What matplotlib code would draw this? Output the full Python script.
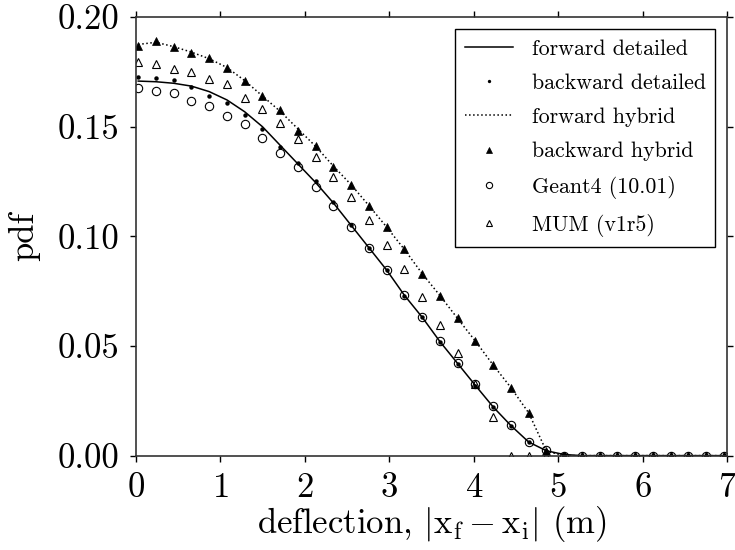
import matplotlib
matplotlib.use("Agg")
import matplotlib.pyplot as plt
import numpy as np

plt.rcParams['font.family'] = 'serif'
plt.rcParams['font.serif'] = ['cmr10']
plt.rcParams['mathtext.fontset'] = 'cm'
plt.rcParams['axes.formatter.use_mathtext'] = True
plt.rcParams['axes.unicode_minus'] = False

# bin centres of the deflection histogram (m)
x = 0.03 + 0.21 * np.arange(34)

fwd_detailed = [0.1708, 0.1705, 0.1698, 0.1685, 0.1660, 0.1622, 0.1568, 0.1500,
                0.1415, 0.1330, 0.1245, 0.1152, 0.1050, 0.0948, 0.0846, 0.0731,
                0.0631, 0.0520, 0.0420, 0.0320, 0.0222, 0.0137, 0.0062, 0.0022,
                0.0005] + [0.0] * 9
bwd_detailed = [0.1725, 0.1720, 0.1713, 0.1680, 0.1641, 0.1606, 0.1553, 0.1490,
                0.1407, 0.1333, 0.1252, 0.1155, 0.1051, 0.0947, 0.0846, 0.0729,
                0.0631, 0.0519, 0.0418, 0.0317, 0.0220, 0.0135, 0.0061, 0.0022,
                0.0007] + [0.0] * 9
fwd_hybrid = [0.1875, 0.1885, 0.1865, 0.1840, 0.1810, 0.1770, 0.1710, 0.1640,
              0.1570, 0.1490, 0.1410, 0.1320, 0.1235, 0.1140, 0.1042, 0.0940,
              0.0830, 0.0730, 0.0625, 0.0522, 0.0413, 0.0310, 0.0195, 0.0020] + [0.0] * 10
bwd_hybrid = [0.1870, 0.1890, 0.1865, 0.1834, 0.1815, 0.1766, 0.1708, 0.1640,
              0.1578, 0.1482, 0.1413, 0.1317, 0.1234, 0.1140, 0.1042, 0.0941,
              0.0828, 0.0728, 0.0626, 0.0524, 0.0413, 0.0310, 0.0195, 0.0020] + [0.0] * 10
geant4 = [0.1675, 0.1663, 0.1655, 0.1618, 0.1596, 0.1550, 0.1512, 0.1447,
          0.1381, 0.1315, 0.1226, 0.1138, 0.1044, 0.0948, 0.0846, 0.0732,
          0.0631, 0.0522, 0.0424, 0.0325, 0.0226, 0.0138, 0.0063, 0.0025] + [0.0] * 10
mum = [0.1796, 0.1784, 0.1763, 0.1751, 0.1719, 0.1695, 0.1630, 0.1580,
       0.1515, 0.1444, 0.1360, 0.1272, 0.1181, 0.1074, 0.0960, 0.0850,
       0.0725, 0.0596, 0.0467, 0.0325, 0.0175] + [0.0] * 13

fig = plt.figure(figsize=(7.35, 5.5), dpi=100)
ax = fig.add_axes([0.1846, 0.1716, 0.8049, 0.7974])

ax.plot(x, fwd_detailed, '-', color='k', lw=1.1, label='forward detailed')
ax.plot(x, bwd_detailed, 'o', color='k', ms=3.2, mew=0, label='backward detailed')
ax.plot(x, fwd_hybrid, ':', color='k', lw=1.1, label='forward hybrid')
ax.plot(x, bwd_hybrid, '^', color='k', ms=6, mew=0.5, label='backward hybrid')
ax.plot(x, geant4, 'o', mfc='none', mec='k', ms=6, mew=0.8, label='Geant4 (10.01)')
ax.plot(x, mum, '^', mfc='none', mec='k', ms=6, mew=0.8, label='MUM (v1r5)')

ax.set_xlim(0, 7)
ax.set_ylim(0, 0.2)
ax.set_xticks(range(8))
ax.set_yticks([0.0, 0.05, 0.10, 0.15, 0.20])
ax.set_yticklabels(['0.00', '0.05', '0.10', '0.15', '0.20'])
ax.tick_params(direction='out', length=4, width=1, top=True, right=True,
               labelsize=25, pad=8)
for s in ax.spines.values():
    s.set_linewidth(1.2)
    s.set_color('#333333')

ax.set_xlabel(r'deflection, $|\mathrm{x_f} - \mathrm{x_i}|$ (m)', fontsize=25, labelpad=0)
ax.set_ylabel('pdf', fontsize=25, labelpad=12)

leg = ax.legend(loc='upper right', bbox_to_anchor=(0.98, 0.972), borderaxespad=0,
                fontsize=15.8, fancybox=False, framealpha=1, edgecolor='k',
                markerscale=0.75, handlelength=2.2, handletextpad=0.85,
                labelspacing=0.67, borderpad=0.45, numpoints=1)
leg.get_frame().set_linewidth(1.0)

fig.savefig('out.png', dpi=100)
